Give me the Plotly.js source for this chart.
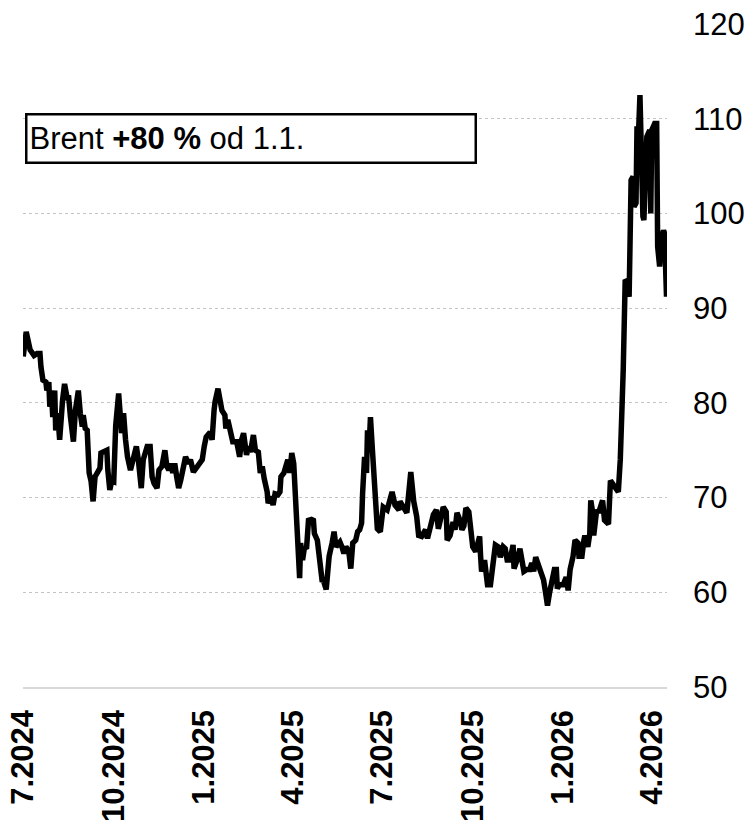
<!DOCTYPE html>
<html>
<head>
<meta charset="utf-8">
<script src="https://cdn.plot.ly/plotly-3.0.1.min.js"></script>
<style>
  html, body { margin: 0; padding: 0; background: #ffffff; }
  #chart { width: 751px; height: 822px; }
</style>
</head>
<body>
<div id="chart"></div>
<script>
// Brent crude oil price (USD / barrel)
const dates = [
  "2024-07-01","2024-07-04","2024-07-08","2024-07-12","2024-07-15","2024-07-18","2024-07-19","2024-07-21","2024-07-24","2024-07-25",
  "2024-07-27","2024-07-28","2024-07-30","2024-07-31","2024-08-02","2024-08-03","2024-08-05","2024-08-07","2024-08-10","2024-08-12",
  "2024-08-15","2024-08-16","2024-08-18","2024-08-21","2024-08-23","2024-08-26","2024-08-28","2024-08-30","2024-08-31","2024-09-02",
  "2024-09-04","2024-09-05","2024-09-06","2024-09-08","2024-09-10","2024-09-12","2024-09-15","2024-09-17","2024-09-18","2024-09-21",
  "2024-09-24","2024-09-25","2024-09-27","2024-09-29","2024-10-01","2024-10-03","2024-10-04","2024-10-06","2024-10-09","2024-10-11",
  "2024-10-13","2024-10-15","2024-10-18","2024-10-21","2024-10-24","2024-10-26","2024-10-29","2024-10-31","2024-11-04","2024-11-07",
  "2024-11-09","2024-11-11","2024-11-14","2024-11-16","2024-11-19","2024-11-22","2024-11-24","2024-11-26","2024-11-28","2024-11-30",
  "2024-12-02","2024-12-04","2024-12-06","2024-12-08","2024-12-10","2024-12-13","2024-12-16","2024-12-18","2024-12-21","2024-12-26",
  "2024-12-30","2025-01-01","2025-01-03","2025-01-07","2025-01-09","2025-01-11","2025-01-12","2025-01-15","2025-01-17","2025-01-19",
  "2025-01-22","2025-01-23","2025-01-25","2025-01-28","2025-01-30","2025-02-03","2025-02-06","2025-02-08","2025-02-10","2025-02-13",
  "2025-02-15","2025-02-17","2025-02-20","2025-02-22","2025-02-25","2025-02-27","2025-03-01","2025-03-03","2025-03-06","2025-03-07",
  "2025-03-10","2025-03-12","2025-03-14","2025-03-17","2025-03-19","2025-03-20","2025-03-23","2025-03-25","2025-03-27","2025-03-29",
  "2025-03-31","2025-04-02","2025-04-04","2025-04-05","2025-04-06","2025-04-08","2025-04-09","2025-04-11","2025-04-13","2025-04-15",
  "2025-04-17","2025-04-20","2025-04-22","2025-04-23","2025-04-26","2025-04-27","2025-04-29","2025-05-01","2025-05-02","2025-05-05",
  "2025-05-06","2025-05-08","2025-05-11","2025-05-13","2025-05-15","2025-05-18","2025-05-19","2025-05-21","2025-05-23","2025-05-25",
  "2025-05-28","2025-05-30","2025-06-01","2025-06-04","2025-06-06","2025-06-08","2025-06-10","2025-06-11","2025-06-13","2025-06-15",
  "2025-06-16","2025-06-18","2025-06-19","2025-06-21","2025-06-22","2025-06-24","2025-06-26","2025-06-29","2025-07-02","2025-07-06",
  "2025-07-08","2025-07-11","2025-07-14","2025-07-18","2025-07-19","2025-07-23","2025-07-26","2025-07-30","2025-08-02","2025-08-05",
  "2025-08-07","2025-08-10","2025-08-14","2025-08-16","2025-08-19","2025-08-22","2025-08-25","2025-08-27","2025-08-29","2025-09-01",
  "2025-09-04","2025-09-05","2025-09-08","2025-09-11","2025-09-13","2025-09-15","2025-09-18","2025-09-20","2025-09-22","2025-09-24",
  "2025-09-27","2025-09-29","2025-10-01","2025-10-04","2025-10-06","2025-10-08","2025-10-09","2025-10-10","2025-10-13","2025-10-15",
  "2025-10-16","2025-10-19","2025-10-22","2025-10-24","2025-10-27","2025-10-29","2025-11-01","2025-11-03","2025-11-05","2025-11-08",
  "2025-11-11","2025-11-12","2025-11-15","2025-11-18","2025-11-20","2025-11-22","2025-11-25","2025-11-28","2025-11-30","2025-12-02",
  "2025-12-04","2025-12-07","2025-12-09","2025-12-12","2025-12-14","2025-12-16","2025-12-18","2025-12-20","2025-12-23","2025-12-25",
  "2025-12-26","2025-12-28","2025-12-31","2026-01-01","2026-01-04","2026-01-06","2026-01-08","2026-01-11","2026-01-13","2026-01-16",
  "2026-01-17","2026-01-20","2026-01-22","2026-01-23","2026-01-26","2026-01-28","2026-01-29","2026-01-31","2026-02-01","2026-02-04",
  "2026-02-06","2026-02-08","2026-02-10","2026-02-12","2026-02-14","2026-02-16","2026-02-18","2026-02-21","2026-02-24","2026-02-26",
  "2026-02-28","2026-03-01","2026-03-02","2026-03-03","2026-03-04","2026-03-05","2026-03-07","2026-03-09","2026-03-11","2026-03-13",
  "2026-03-14","2026-03-16","2026-03-17","2026-03-18","2026-03-20","2026-03-21","2026-03-23","2026-03-24","2026-03-25","2026-03-27",
  "2026-03-30","2026-03-31","2026-04-01","2026-04-04","2026-04-06","2026-04-07","2026-04-09","2026-04-11","2026-04-13","2026-04-14",
  "2026-04-16"
];
const brent = [
  84.9,87.5,85.6,85.0,85.2,85.2,83.8,82.4,82.2,81.3,
  82.2,79.6,80.6,78.5,81.3,77.1,78.9,76.1,80.3,82.0,
  80.3,80.8,78.5,75.9,79.2,81.3,78.9,77.5,78.7,77.3,
  77.1,74.7,72.6,71.7,69.6,72.2,72.6,73.1,74.7,74.8,
  75.0,72.9,70.8,71.8,71.7,77.6,78.9,81.0,76.8,78.9,
  76.1,74.3,72.9,74.3,75.4,74.0,71.0,74.0,75.4,75.4,
  72.2,71.5,71.0,72.9,73.3,75.0,73.3,72.9,73.6,72.6,
  73.6,72.2,71.0,71.8,72.6,74.3,73.6,74.0,72.7,73.4,
  74.0,75.4,76.4,76.9,76.1,79.2,80.1,81.5,80.5,79.2,
  78.7,77.3,78.2,76.4,75.9,75.9,74.3,76.1,76.8,74.5,
  75.4,74.8,76.6,75.0,74.8,72.6,73.3,72.0,70.6,69.4,
  70.1,69.2,70.4,70.3,70.6,72.2,72.6,73.3,74.0,72.6,
  74.7,73.6,69.0,65.9,64.8,61.5,65.2,63.4,64.8,64.6,
  67.6,67.7,67.6,66.2,65.5,64.8,62.7,61.1,61.3,60.3,
  61.3,63.8,65.2,66.4,64.8,65.3,65.3,64.8,64.1,64.8,
  64.3,62.5,65.2,65.5,66.4,66.6,67.3,70.4,74.3,72.6,
  77.1,76.1,78.5,75.0,72.9,68.0,66.7,66.4,69.0,68.7,
  69.7,70.6,69.2,68.7,69.6,68.9,68.4,72.7,69.6,68.0,
  66.0,65.9,66.6,65.7,67.1,68.2,68.7,66.7,67.6,69.0,
  68.5,65.5,66.0,67.4,66.6,68.4,67.6,66.6,67.0,68.9,
  68.5,67.0,64.8,64.3,65.5,65.9,63.8,62.2,63.4,61.1,
  60.8,60.8,63.4,65.0,64.8,63.7,64.8,64.6,63.4,63.4,
  65.0,62.5,63.4,64.6,63.4,62.2,62.4,62.4,63.1,62.2,
  63.7,62.8,62.4,61.3,60.0,58.6,59.9,61.0,62.4,62.4,
  60.4,60.8,60.8,60.8,61.6,60.2,62.4,63.8,65.5,65.2,
  63.8,63.8,65.5,66.0,64.8,66.2,69.7,68.4,66.0,68.7,
  68.4,69.2,69.7,67.6,67.4,67.2,71.8,71.4,70.8,70.6,
  74.0,76.1,80.3,83.5,89.8,93.0,92.8,91.2,103.5,103.9,
  100.7,101.1,109.2,107.0,112.5,107.0,99.7,99.3,104.2,108.1,
  108.8,100.0,108.8,109.5,109.5,96.5,94.4,97.5,98.2,97.9,
  91.2
];

const tickDates = ["2024-07-01","2024-10-01","2025-01-01","2025-04-01","2025-07-01","2025-10-01","2026-01-01","2026-04-01"];
const tickLabels = ["7.2024","10.2024","1.2025","4.2025","7.2025","10.2025","1.2026","4.2026"];
const yTicks = [50, 60, 70, 80, 90, 100, 110, 120];
const noteText = "Brent <b>+80 %</b> od 1.1.";

const FONT = "Liberation Sans, Arial, sans-serif";

const trace = {
  type: "scatter",
  mode: "lines",
  x: dates,
  y: brent,
  line: { color: "#000000", width: 5.5, shape: "linear" },
  hoverinfo: "x+y",
  showlegend: false
};

const layout = {
  width: 751,
  height: 822,
  margin: { l: 23, r: 84, t: 24, b: 135, pad: 0 },
  paper_bgcolor: "#ffffff",
  plot_bgcolor: "#ffffff",
  font: { family: FONT, color: "#000000", size: 31 },
  showlegend: false,
  xaxis: {
    type: "date",
    range: ["2024-06-30 18:00", "2026-04-16 12:00"],
    tickmode: "array",
    tickvals: tickDates,
    ticktext: tickLabels,
    tickangle: -90,
    tickfont: { family: FONT, size: 31, color: "#000000", weight: "bold" },
    ticks: "",
    ticklabelstandoff: 9,
    showgrid: false,
    zeroline: false,
    showline: true,
    linecolor: "#d9d9d9",
    linewidth: 1.5,
    fixedrange: true
  },
  yaxis: {
    side: "right",
    range: [50, 120],
    tickmode: "array",
    tickvals: yTicks,
    ticktext: yTicks.map(String),
    tickfont: { family: FONT, size: 31, color: "#000000" },
    ticks: "",
    ticklabelstandoff: 25,
    showgrid: true,
    gridcolor: "#c4c4c4",
    gridwidth: 1,
    griddash: "dot",
    zeroline: false,
    showline: false,
    fixedrange: true
  },
  annotations: [{
    xref: "paper", yref: "paper",
    x: 0.003, y: 0.8658,
    xanchor: "left", yanchor: "top",
    text: noteText,
    showarrow: false,
    align: "left",
    width: 443,
    height: 42,
    valign: "middle",
    font: { family: FONT, size: 31, color: "#000000" },
    bgcolor: "#ffffff",
    bordercolor: "#000000",
    borderwidth: 2.5,
    borderpad: 2
  }]
};

Plotly.newPlot("chart", [trace], layout, { displayModeBar: false, staticPlot: true });
</script>
</body>
</html>
